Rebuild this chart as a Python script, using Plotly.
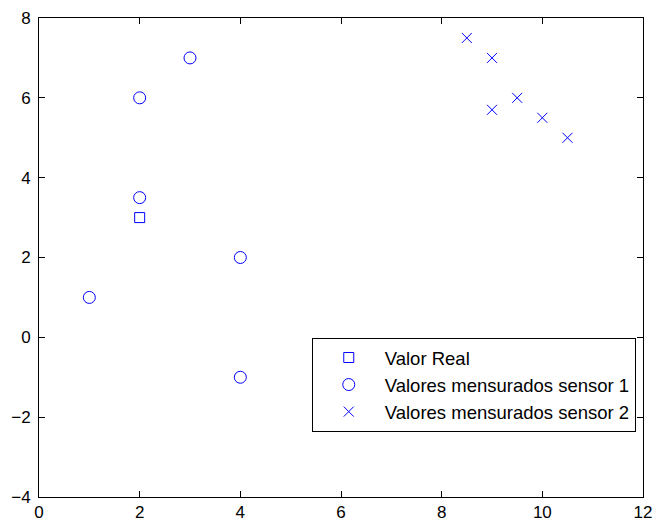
import plotly.graph_objects as go

real_x = [2]
real_y = [3]
s1_x = [1, 2, 2, 3, 4, 4]
s1_y = [1, 6, 3.5, 7, 2, -1]
s2_x = [8.5, 9, 9, 9.5, 10, 10.5]
s2_y = [7.5, 7, 5.7, 6, 5.5, 5]

blue = "#0000ff"
fig = go.Figure()
fig.add_trace(go.Scatter(x=real_x, y=real_y, mode="markers", name="Valor Real",
                         marker=dict(symbol="square-open", size=10, color=blue, line=dict(width=1, color=blue))))
fig.add_trace(go.Scatter(x=s1_x, y=s1_y, mode="markers", name="Valores mensurados sensor 1",
                         marker=dict(symbol="circle-open", size=12, color=blue, line=dict(width=1, color=blue))))
fig.add_trace(go.Scatter(x=s2_x, y=s2_y, mode="markers", name="Valores mensurados sensor 2",
                         marker=dict(symbol="x-thin-open", size=10, color=blue, line=dict(width=1, color=blue))))

axis_common = dict(showline=True, linecolor="black", linewidth=1, mirror="ticks",
                   ticks="inside", ticklen=6, tickcolor="black", showgrid=False, zeroline=False,
                   automargin=False,
                   tickfont=dict(family="Liberation Sans, Arial", size=17, color="black"))
fig.update_layout(
    width=657, height=522,
    margin=dict(l=39, r=14, t=18, b=25),
    paper_bgcolor="white", plot_bgcolor="white",
    xaxis=dict(range=[0, 12], dtick=2, **axis_common),
    yaxis=dict(range=[-4, 8], dtick=2, ticklabelstandoff=4, **axis_common),
    legend=dict(x=0.988, y=0.332, xanchor="right", yanchor="top", itemwidth=62,
                bordercolor="black", borderwidth=1, bgcolor="white",
                font=dict(family="Liberation Sans, Arial", size=18.5, color="black")),
    showlegend=True,
)
fig.write_html("out.html")
